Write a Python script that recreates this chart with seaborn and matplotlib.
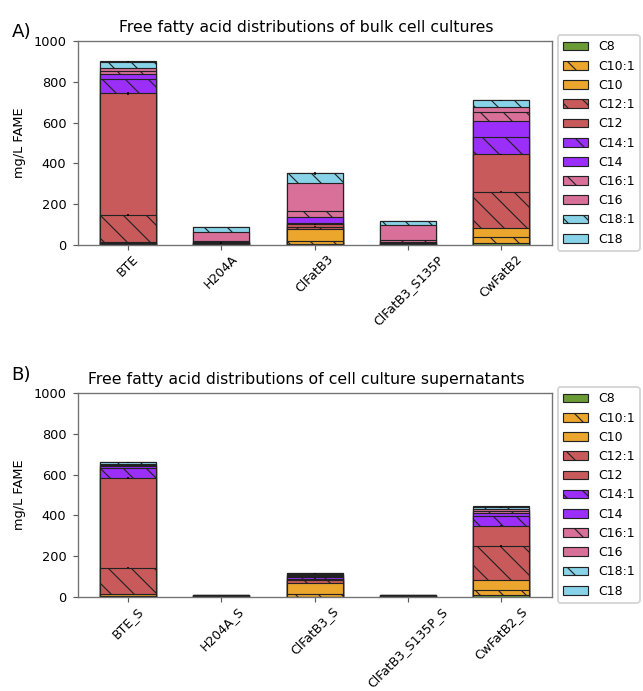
import matplotlib
matplotlib.use("Agg")
import matplotlib.pyplot as plt
import matplotlib.patches as mpatches
import numpy as np
import seaborn as sns

# stacking order, bottom to top
acids = ["C8", "C10:1", "C10", "C12:1", "C12", "C14:1", "C14", "C16:1", "C16", "C18:1", "C18"]
acid_colors = ["#6b9b35", "#eca62e", "#eca62e", "#c95a5b", "#c95a5b", "#9b2ff9",
               "#9b2ff9", "#d9709a", "#d9709a", "#89d3e8", "#89d3e8"]
acid_hatches = ["", "\\\\", "", "\\\\", "", "\\\\", "", "\\\\", "", "\\\\", ""]

# A) bulk cell cultures, mg/L FAME per acid (same order as acids)
bulk_samples = ["BTE", "H204A", "ClFatB3", "ClFatB3_S135P", "CwFatB2"]
bte = [4, 4, 8, 131, 597, 70, 26, 12, 14, 33, 3]
h204a = [2, 1, 2, 3, 4, 2, 3, 3, 46, 21, 2]
clfatb3 = [5, 16, 56, 13, 11, 5, 33, 26, 137, 49, 3]
clfatb3_s135p = [1, 1, 2, 2, 3, 3, 5, 6, 77, 18, 2]
cwfatb2 = [8, 33, 41, 179, 184, 86, 77, 45, 25, 31, 2]
bulk_err = {"C12:1": [3, 1, 1, 1, 3], "C12": [8, 1, 2, 1, 3], "C18:1": [2, 1, 7, 1, 2]}

# B) cell culture supernatants
sup_samples = ["BTE_S", "H204A_S", "ClFatB3_S", "ClFatB3_S135P_S", "CwFatB2_S"]
bte_s = [3, 4, 9, 128, 439, 51, 10, 5, 3, 8, 3]
h204a_s = [1, 1, 1, 1, 1.5, 1, 1, 1, 2, 1, 0.5]
clfatb3_s = [2, 14, 53, 13, 8, 8, 7, 3, 5, 3, 2]
clfatb3_s135p_s = [1, 1, 1, 1, 1.5, 1, 1, 1, 1.5, 1, 0.5]
cwfatb2_s = [11, 25, 47, 167, 100, 49, 13, 10, 9, 9, 6]
sup_err = {"C12:1": [3, 0.5, 1, 0.5, 3], "C12": [7, 0.5, 1, 0.5, 3], "C18:1": [2, 0.5, 2, 0.5, 2]}

sns.set_style("ticks")
plt.rcParams["font.family"] = ["DejaVu Sans"]
plt.rcParams["hatch.linewidth"] = 0.6
plt.rcParams["axes.edgecolor"] = "0.45"
plt.rcParams["axes.linewidth"] = 0.7
plt.rcParams["text.color"] = "black"
plt.rcParams["axes.labelcolor"] = "black"
plt.rcParams["xtick.labelcolor"] = "black"
plt.rcParams["ytick.labelcolor"] = "black"

DPI = 138
TICK = 6.7


def plot_stacked(ax, samples, rows, errs, title):
    cum = np.array(rows, dtype=float).cumsum(axis=1)
    # draw tallest cumulative layer first so each band shows through
    for i in range(len(acids) - 1, -1, -1):
        sns.barplot(
            x=samples, y=cum[:, i], color=acid_colors[i], hatch=acid_hatches[i],
            edgecolor="#222222", linewidth=0.6, width=0.6, saturation=1,
            errorbar=None, ax=ax
        )
    for acid, e in errs.items():
        i = acids.index(acid)
        ax.errorbar(np.arange(len(samples)), cum[:, i], yerr=e, fmt="none",
                    ecolor="black", elinewidth=0.8)
    ax.set_xlim(-0.54, len(samples) - 0.46)
    ax.set_ylim(0, 1000)
    ax.set_yticks([0, 200, 400, 600, 800, 1000])
    ax.set_ylabel("mg/L FAME", fontsize=TICK)
    ax.set_xlabel("")
    ax.set_title(title, fontsize=8.2, x=0.482, pad=4.5)
    ax.tick_params(axis="both", labelsize=TICK, width=0.6, length=2.5, color="0.35")
    ax.tick_params(axis="x", rotation=45, labelsize=6.5, pad=1.5)

    handles = [mpatches.Patch(facecolor=c, hatch=h, edgecolor="#222222", linewidth=0.6, label=a)
               for a, c, h in zip(acids, acid_colors, acid_hatches)]
    ax.legend(handles=handles, loc="center left", bbox_to_anchor=(1.0, 0.5), fontsize=6.5)


fig, (ax1, ax2) = plt.subplots(2, 1, figsize=(643 / DPI, 691 / DPI), dpi=DPI)
fig.subplots_adjust(left=0.121, right=0.858, top=0.9407, bottom=0.136, hspace=0.725)

plot_stacked(ax1, bulk_samples, np.array([bte, h204a, clfatb3, clfatb3_s135p, cwfatb2]),
             bulk_err, "Free fatty acid distributions of bulk cell cultures")
plot_stacked(ax2, sup_samples, np.array([bte_s, h204a_s, clfatb3_s, clfatb3_s135p_s, cwfatb2_s]),
             sup_err, "Free fatty acid distributions of cell culture supernatants")

fig.text(0.018, 0.946, "A)", fontsize=9.5)
fig.text(0.018, 0.45, "B)", fontsize=9.5)

fig.savefig("out.png", dpi=DPI)
